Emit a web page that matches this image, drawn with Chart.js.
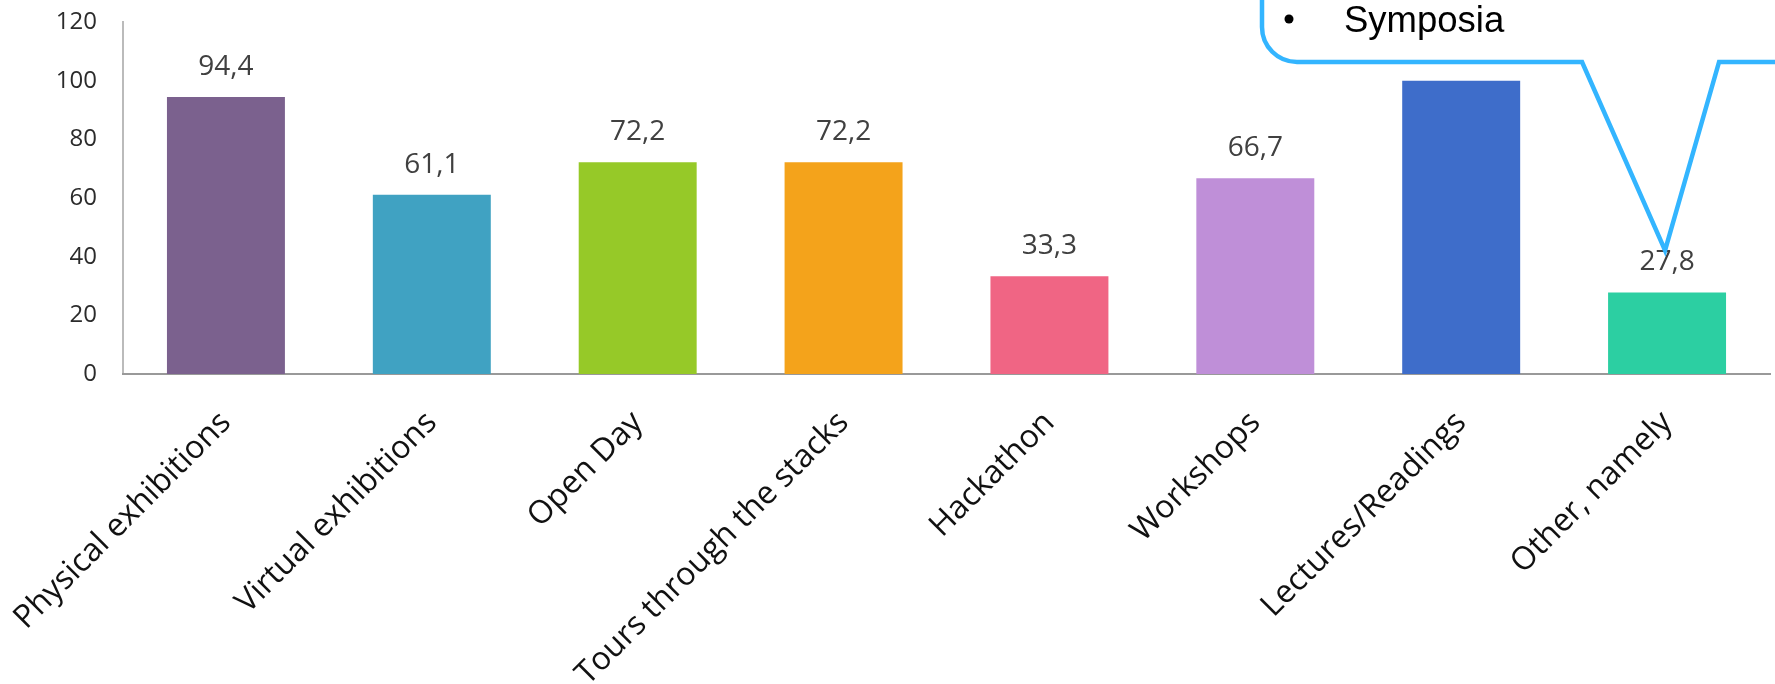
<!DOCTYPE html>
<html>
<head>
<meta charset="utf-8">
<script src="https://cdn.jsdelivr.net/npm/chart.js@4"></script>
<style>
html,body{margin:0;padding:0;background:#fff;}
canvas{display:block;}
</style>
</head>
<body>
<canvas id="c" width="1775" height="684"></canvas>
<script>
const categories = ["Physical exhibitions","Virtual exhibitions","Open Day","Tours through the stacks","Hackathon","Workshops","Lectures/Readings","Other, namely"];
const values = [94.4, 61.1, 72.2, 72.2, 33.3, 66.7, 100, 27.8];
const barColors = ["#7B618E","#40A2C2","#96C928","#F4A31B","#F06584","#BF8FD8","#3E6DCA","#2CCFA2"];
const yTicks = [0,20,40,60,80,100,120];
const calloutItems = ["Symposia"];

const valueLabels = {
  id:'valueLabels',
  afterDatasetsDraw(chart){
    const ctx = chart.ctx;
    const meta = chart.getDatasetMeta(0);
    ctx.save();
    ctx.font = '28px "Open Sans"';
    ctx.fillStyle = '#404040';
    ctx.textAlign = 'center';
    ctx.textBaseline = 'middle';
    meta.data.forEach((bar,i)=>{
      const txt = values[i].toLocaleString('de-DE');
      ctx.fillText(txt, bar.x, bar.y - 30);
    });
    ctx.restore();
  }
};

const callout = {
  id:'callout',
  afterDraw(chart){
    const ctx = chart.ctx;
    const meta = chart.getDatasetMeta(0);
    const last = meta.data[meta.data.length-1];
    const tipX = last.x - 2, tipY = last.y - 42;
    const left = 1262, bottom = 62, r = 35;
    ctx.save();
    ctx.beginPath();
    ctx.moveTo(left, -20);
    ctx.lineTo(left, bottom - r);
    ctx.arcTo(left, bottom, left + r, bottom, r);
    ctx.lineTo(tipX - 83, bottom);
    ctx.lineTo(tipX, tipY);
    ctx.lineTo(tipX + 54, bottom);
    ctx.lineTo(1800, bottom);
    ctx.lineTo(1800, -20);
    ctx.closePath();
    ctx.fillStyle = '#ffffff';
    ctx.fill();
    ctx.lineWidth = 4.5;
    ctx.lineJoin = 'miter';
    ctx.strokeStyle = '#33B5FF';
    ctx.stroke();
    ctx.fillStyle = '#000';
    ctx.beginPath();
    ctx.arc(1289, 19, 4.5, 0, Math.PI*2);
    ctx.fill();
    ctx.font = '36.5px "Liberation Sans"';
    ctx.textAlign = 'left';
    ctx.textBaseline = 'alphabetic';
    ctx.fillText(calloutItems[0], 1344, 32);
    ctx.restore();
  }
};

new Chart(document.getElementById('c'), {
  type:'bar',
  data:{
    labels:categories,
    datasets:[{
      data:values,
      backgroundColor:barColors,
      borderWidth:0,
      categoryPercentage:1,
      barPercentage:0.573
    }]
  },
  options:{
    responsive:false,
    animation:false,
    devicePixelRatio:1,
    layout:{padding:{top:22,right:5,left:0,bottom:0}},
    plugins:{legend:{display:false},tooltip:{enabled:false}},
    scales:{
      y:{
        min:0,max:120,
        afterBuildTicks(scale){ scale.ticks = yTicks.map(v=>({value:v})); },
        afterFit(scale){ scale.width = 123; scale.paddingTop = 0; scale.paddingBottom = 0; },
        grid:{display:false, drawTicks:false},
        border:{display:true,color:'#BBBBBB',width:2},
        ticks:{padding:26,color:'#2b2b2b',font:{family:'"Open Sans"',size:24}}
      },
      x:{
        afterFit(scale){ scale.height = 310; scale.paddingLeft = 0; scale.paddingRight = 0; },
        grid:{display:false, drawTicks:false},
        border:{display:true,color:'#999999',width:2},
        ticks:{autoSkip:false,minRotation:45,maxRotation:45,padding:30,color:'#111111',font:{family:'"Open Sans"',size:32}}
      }
    }
  },
  plugins:[valueLabels, callout]
});
</script>
</body>
</html>
